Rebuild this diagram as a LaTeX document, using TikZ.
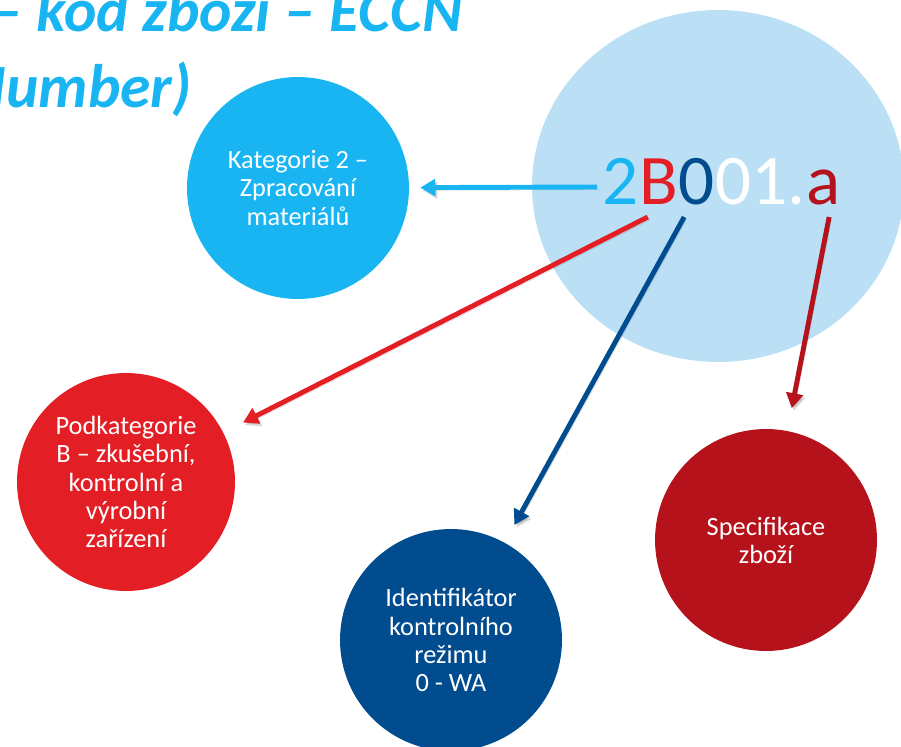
\documentclass[tikz,border=0pt]{standalone}
\usepackage{fontspec}
\setmainfont{Carlito}
\usetikzlibrary{arrows.meta, calc, positioning}

\definecolor{skyblue}{RGB}{25,181,242}
\definecolor{palesky}{RGB}{187,224,245}
\definecolor{brightred}{RGB}{227,30,36}
\definecolor{navyblue}{RGB}{0,76,143}
\definecolor{darkred}{RGB}{181,18,27}

\tikzset{
  bubble/.style={circle, minimum size=4.44cm, inner sep=0pt, text=white,
    align=center, font=\fontsize{15}{16}\selectfont},
  codechar/.style={anchor=base west, inner sep=0pt, font=\fontsize{40.5}{44}\selectfont},
  headline/.style={anchor=base east, inner sep=0pt, text=skyblue,
    font=\fontsize{35}{42}\selectfont\bfseries\itshape},
  pointer/.style={line width=2.8pt, -{Triangle[length=8.5pt,width=9.5pt]},
    preaction={draw=black, opacity=.15, transform canvas={shift={(1.2pt,-1.5pt)}}}}
}

\begin{document}
\begin{tikzpicture}[x=0.02cm, y=-0.02cm]
\useasboundingbox (0,0) rectangle (901,746);

% title, cut off by the page edge
\node[headline] (title1) at (463,32) {– kód zboží – ECCN};
\node[headline] (title2) at (192,108) {Number)};

% background disc behind the code
\fill[palesky] (718,186) ellipse [x radius=3.72cm, y radius=3.52cm];

% the code, one colour per part
\node[codechar, text=skyblue] (c2) at (602,205) {2};
\node[codechar, text=brightred] (cB) at (c2.base east) {B};
\node[codechar, text=navyblue] (c0) at (cB.base east) {0};
\node[codechar, text=white] (c01) at (c0.base east) {01.};
\node[codechar, text=darkred] (ca) at (c01.base east) {a};

% circles
\node[bubble, fill=skyblue] (kat) at (298,188) {Kategorie 2 –\\Zpracování\\materiálů};
\node[bubble, fill=brightred, minimum size=4.36cm] (podkat) at (126,482)
  {Podkategorie\\B – zkušební,\\kontrolní a\\výrobní\\zařízení};
\node[bubble, fill=navyblue] (ident) at (451,640) {Identifikátor\\kontrolního\\režimu\\0 - WA};
\node[bubble, fill=darkred] (spec) at (766,540) {Specifikace\\zboží};

% arrows
\draw[pointer, skyblue, shorten >=0.22cm] ($(c2.base west)+(-5,-18)$) -- (kat);
\draw[pointer, brightred, shorten >=0.44cm] ($(cB.base west)+(9,12)$) -- (podkat);
\draw[pointer, navyblue, shorten >=0.4cm] ($(c0.base west)+(6,12)$) -- (ident);
\draw[pointer, darkred, shorten >=0.46cm] ($(ca.base)+(6,12)$) -- (spec);

\end{tikzpicture}
\end{document}
